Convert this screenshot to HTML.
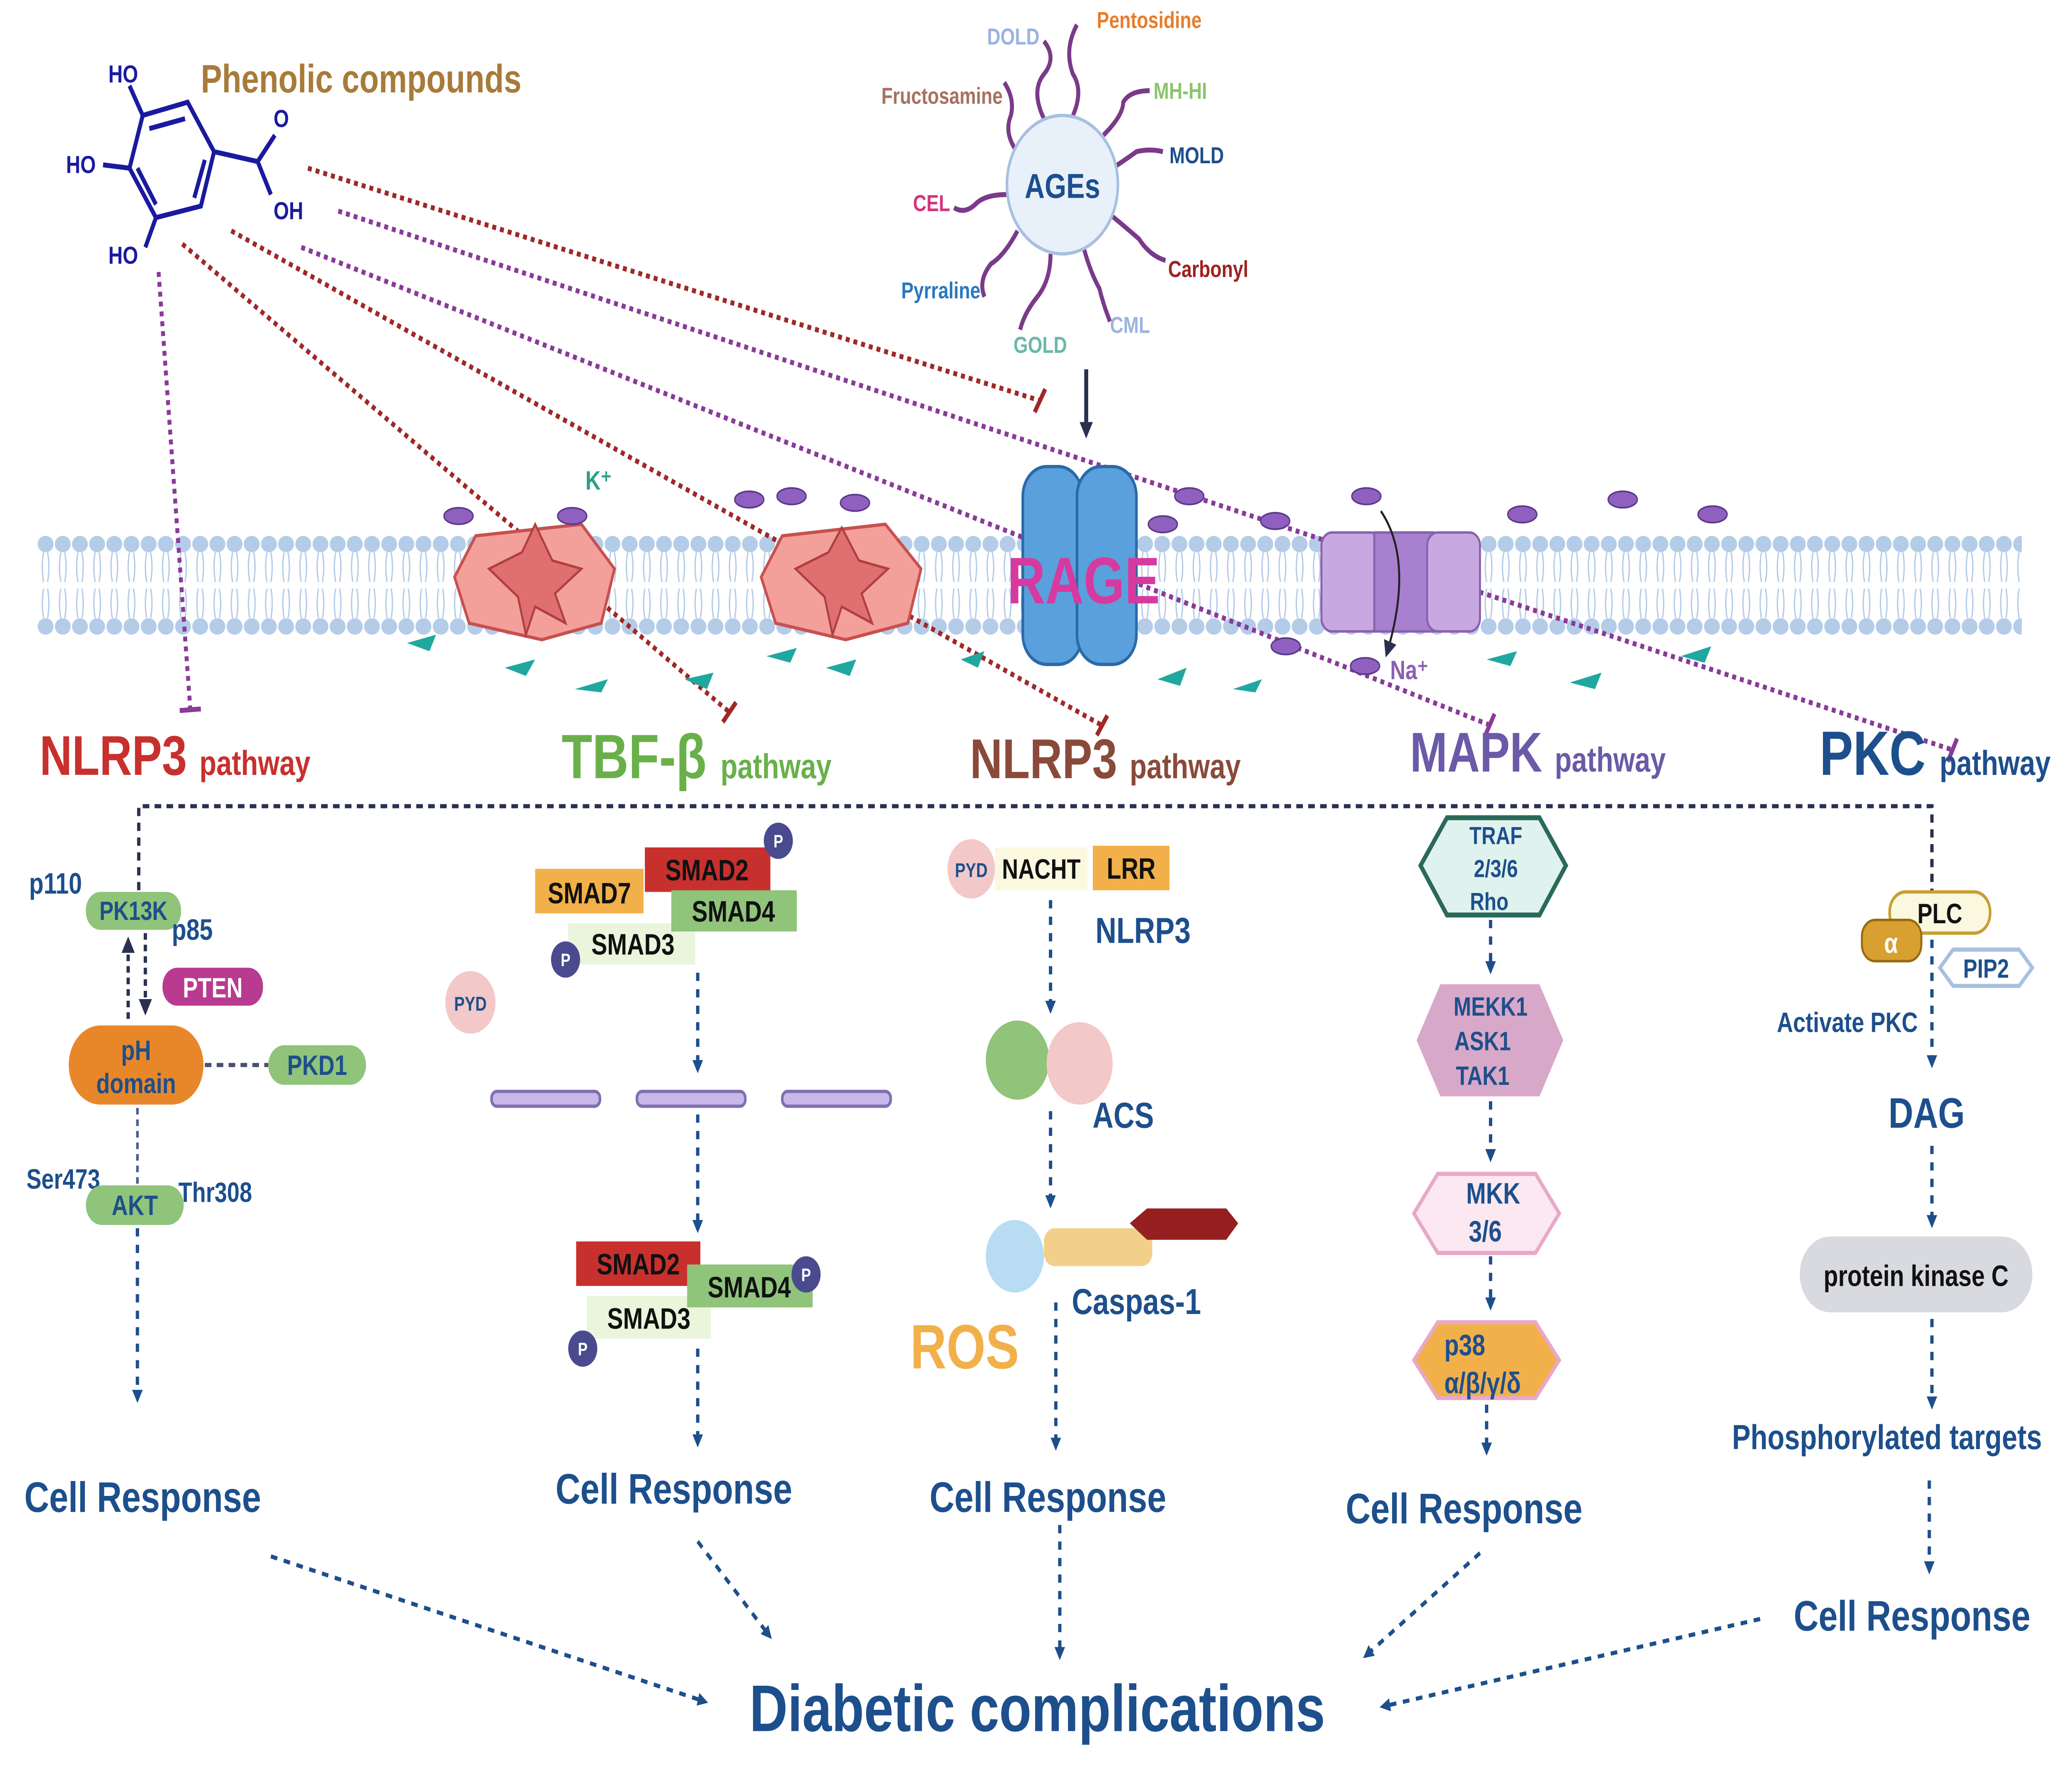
<!DOCTYPE html>
<html><head><meta charset="utf-8"><style>html,body{margin:0;padding:0;background:#fff;overflow:hidden;width:100%;height:100%}svg{display:block;position:absolute;left:0;top:0;width:100vw;height:100vh}text{font-family:"Liberation Sans",sans-serif;font-weight:bold}</style></head><body>
<svg viewBox="0 0 1568 1073" preserveAspectRatio="none" xmlns="http://www.w3.org/2000/svg">
<defs>
<pattern id="lip" x="28" y="322" width="13" height="66" patternUnits="userSpaceOnUse">
<ellipse cx="6.5" cy="8" rx="6" ry="5" fill="#b4cce8"/>
<ellipse cx="6.5" cy="58" rx="6" ry="5" fill="#b4cce8"/>
<path d="M5 13 Q3 22 5 31 M8 13 Q10 22 8 31 M5 35 Q3 44 5 53 M8 35 Q10 44 8 53" stroke="#b4cce8" stroke-width="1" fill="none"/>
</pattern>
<marker id="ah" markerWidth="8" markerHeight="8" refX="5" refY="4" orient="auto" markerUnits="userSpaceOnUse"><path d="M0 0 L8 4 L0 8 Z" fill="#1d4f8c"/></marker>
<marker id="ahk" markerWidth="10" markerHeight="10" refX="6" refY="5" orient="auto" markerUnits="userSpaceOnUse"><path d="M0 0 L10 5 L0 10 Z" fill="#2a3050"/></marker>
</defs>
<rect width="1568" height="1073" fill="#fff"/>
<rect x="28" y="322" width="1502" height="66" fill="url(#lip)"/>
<g stroke="#1a1aa0" stroke-width="3" fill="none">
<path d="M108 70 L142 62 L162 92 L152 125 L118 132 L98 102 Z"/>
<path d="M113 78 L140 72 M155 97 L147 120 M118 124 L104 102"/>
<path d="M162 92 L195 98 L208 82 M195 98 L205 118 M108 70 L98 52 M98 102 L78 100 M118 132 L110 150"/>
</g>
<g fill="#1a1aa0" font-size="15"><text x="82" y="50">HO</text><text x="50" y="105">HO</text><text x="82" y="160">HO</text><text x="207" y="77">O</text><text x="207" y="133">OH</text></g>
<text x="152" y="56" fill="#a87b3a" font-size="24">Phenolic compounds</text>
<g stroke="#7a3a8a" stroke-width="3" fill="none">
<path d="M790 72 Q780 55 790 45 Q800 35 790 25"/><path d="M812 70 Q820 55 812 45 Q805 30 815 15"/>
<path d="M835 82 Q850 70 850 62 Q855 55 870 55"/><path d="M842 102 Q855 95 860 92 Q870 90 880 92"/>
<path d="M840 130 Q855 140 862 145 Q870 155 882 158"/><path d="M820 150 Q825 165 832 175 Q835 185 840 195"/>
<path d="M795 154 Q795 170 785 180 Q775 190 772 200"/><path d="M770 140 Q760 155 750 160 Q740 170 745 180"/>
<path d="M762 118 Q745 118 738 124 Q730 130 722 126"/><path d="M768 90 Q760 80 765 70 Q768 60 760 50"/>
</g>
<circle cx="804" cy="112" r="42" fill="#e8f0fa" stroke="#a8c0e0" stroke-width="2"/>
<text x="804" y="120" text-anchor="middle" font-size="21" fill="#1d4f8c">AGEs</text>
<g font-size="14">
<text x="747" y="27" fill="#9bb4e0">DOLD</text><text x="830" y="17" fill="#e87d2a">Pentosidine</text>
<text x="667" y="63" fill="#a87060">Fructosamine</text><text x="873" y="60" fill="#8cc46a">MH-HI</text>
<text x="885" y="99" fill="#1d4f8c">MOLD</text><text x="691" y="128" fill="#d6337a">CEL</text>
<text x="884" y="168" fill="#a02020">Carbonyl</text><text x="682" y="181" fill="#2a78c0">Pyrraline</text>
<text x="840" y="202" fill="#9bb4e0">CML</text><text x="767" y="214" fill="#6ab8a8">GOLD</text>
</g>
<line x1="822" y1="224" x2="822" y2="262" stroke="#2a3050" stroke-width="3" marker-end="url(#ahk)"/>
<g stroke-width="3" stroke-dasharray="3 3" fill="none">
<line x1="233" y1="102" x2="787" y2="243" stroke="#a02828"/>
<line x1="256" y1="128" x2="1478" y2="455" stroke="#8a3a9a"/>
<line x1="228" y1="150" x2="1128" y2="440" stroke="#8a3a9a"/>
<line x1="175" y1="140" x2="834" y2="440" stroke="#a02828"/>
<line x1="138" y1="148" x2="552" y2="432" stroke="#a02828"/>
<line x1="120" y1="165" x2="144" y2="430" stroke="#8a3a9a"/>
</g>
<g stroke-width="3">
<line x1="783" y1="250" x2="791" y2="236" stroke="#a02828"/>
<line x1="1474" y1="462" x2="1481" y2="448" stroke="#8a3a9a"/>
<line x1="1124" y1="446" x2="1131" y2="433" stroke="#8a3a9a"/>
<line x1="830" y1="446" x2="838" y2="434" stroke="#a02828"/>
<line x1="547" y1="438" x2="557" y2="426" stroke="#a02828"/>
<line x1="136" y1="431" x2="152" y2="430" stroke="#8a3a9a"/>
</g>
<g fill="#f4a09a" stroke="#c85050" stroke-width="2">
<path d="M360 325 L440 318 L465 345 L455 378 L410 388 L355 378 L344 350 Z"/>
<path d="M592 325 L670 318 L697 345 L687 378 L640 388 L587 378 L576 350 Z"/>
</g>
<g fill="#e07070" stroke="#b04040" stroke-width="1.5">
<path d="M370 345 L395 335 L405 318 L418 340 L440 345 L420 360 L428 378 L405 368 L398 385 L392 362 Z"/>
<path d="M602 345 L627 335 L637 320 L650 340 L672 345 L652 360 L660 378 L637 368 L630 385 L624 362 Z"/>
</g>
<g fill="#5aa0dc" stroke="#2a6aa8" stroke-width="2">
<rect x="774" y="283" width="45" height="120" rx="18"/><rect x="815" y="283" width="45" height="120" rx="18"/>
</g>
<text x="820" y="366" text-anchor="middle" font-size="40" fill="#d63aa0">RAGE</text>
<g fill="#c8a8e0" stroke="#8a60b0" stroke-width="1.5">
<rect x="1000" y="323" width="45" height="60" rx="8"/><rect x="1040" y="323" width="45" height="60" fill="#a880d0"/><rect x="1080" y="323" width="40" height="60" rx="8"/>
</g>
<path d="M1045 310 Q1070 340 1050 395" stroke="#222" stroke-width="1.5" fill="none" marker-end="url(#ahk)"/>
<text x="443" y="297" font-size="16" fill="#2aa08a" font-weight="normal">K⁺</text>
<text x="1052" y="412" font-size="16" fill="#8a60b0" font-weight="normal">Na⁺</text>
<g fill="#9060c0" stroke="#5a3a8a" stroke-width="1">
<ellipse cx="347" cy="313" rx="11" ry="5"/><ellipse cx="433" cy="313" rx="11" ry="5"/><ellipse cx="567" cy="303" rx="11" ry="5"/>
<ellipse cx="599" cy="301" rx="11" ry="5"/><ellipse cx="647" cy="305" rx="11" ry="5"/><ellipse cx="880" cy="318" rx="11" ry="5"/>
<ellipse cx="900" cy="301" rx="11" ry="5"/><ellipse cx="965" cy="316" rx="11" ry="5"/><ellipse cx="1034" cy="301" rx="11" ry="5"/>
<ellipse cx="1152" cy="312" rx="11" ry="5"/><ellipse cx="1228" cy="303" rx="11" ry="5"/><ellipse cx="1296" cy="312" rx="11" ry="5"/>
<ellipse cx="973" cy="392" rx="11" ry="5"/><ellipse cx="1033" cy="404" rx="11" ry="5"/>
</g>
<g fill="#20a8a0">
<path d="M308 390 L330 385 L325 395 Z"/><path d="M382 405 L405 400 L398 410 Z"/><path d="M435 418 L460 412 L455 420 Z"/>
<path d="M518 412 L540 408 L535 418 Z"/><path d="M580 398 L603 393 L598 402 Z"/><path d="M625 405 L648 400 L643 410 Z"/>
<path d="M727 400 L745 395 L740 405 Z"/><path d="M876 412 L898 405 L893 416 Z"/><path d="M933 418 L955 412 L950 420 Z"/>
<path d="M1125 400 L1148 395 L1143 404 Z"/><path d="M1188 414 L1212 408 L1207 418 Z"/><path d="M1272 398 L1295 392 L1290 402 Z"/>
</g>
<text x="30" y="470" font-size="34" fill="#c8302e">NLRP3 <tspan font-size="21">pathway</tspan></text>
<text x="425" y="472" font-size="38" fill="#6ab04a">TBF-β <tspan font-size="21">pathway</tspan></text>
<text x="734" y="472" font-size="34" fill="#8a4a3a">NLRP3 <tspan font-size="21">pathway</tspan></text>
<text x="1067" y="468" font-size="34" fill="#6a5aa8">MAPK <tspan font-size="21">pathway</tspan></text>
<text x="1377" y="470" font-size="38" fill="#1d4f8c">PKC <tspan font-size="21">pathway</tspan></text>
<path d="M105 540 L105 489 L1462 489 L1462 540" stroke="#2a3050" stroke-width="2.5" stroke-dasharray="5 4" fill="none"/>
<text x="22" y="542" font-size="18" fill="#1d4f8c">p110</text>
<rect x="65" y="541" width="72" height="23" rx="11" fill="#8fc47a"/><text x="101" y="558" text-anchor="middle" font-size="16" fill="#1d4f8c">PK13K</text>
<text x="130" y="570" font-size="18" fill="#1d4f8c">p85</text>
<line x1="97" y1="618" x2="97" y2="572" stroke="#2a3050" stroke-width="2.5" stroke-dasharray="4 3" marker-end="url(#ahk)"/>
<line x1="110" y1="566" x2="110" y2="612" stroke="#2a3050" stroke-width="2.5" stroke-dasharray="4 3" marker-end="url(#ahk)"/>
<rect x="123" y="587" width="76" height="23" rx="11" fill="#b83b8f"/><text x="161" y="605" text-anchor="middle" font-size="17" fill="#fff">PTEN</text>
<rect x="52" y="622" width="102" height="48" rx="24" fill="#e8872a"/><text x="103" y="643" text-anchor="middle" font-size="17" fill="#1d4f8c">pH</text><text x="103" y="663" text-anchor="middle" font-size="17" fill="#1d4f8c">domain</text>
<line x1="155" y1="646" x2="203" y2="646" stroke="#4a5070" stroke-width="2.5" stroke-dasharray="5 4"/>
<rect x="203" y="634" width="74" height="24" rx="12" fill="#8fc47a"/><text x="240" y="652" text-anchor="middle" font-size="17" fill="#1d4f8c">PKD1</text>
<line x1="104" y1="672" x2="104" y2="718" stroke="#4a6090" stroke-width="2" stroke-dasharray="4 3"/>
<text x="20" y="721" font-size="17" fill="#1d4f8c">Ser473</text>
<rect x="65" y="719" width="74" height="24" rx="12" fill="#8fc47a"/><text x="102" y="737" text-anchor="middle" font-size="17" fill="#1d4f8c">AKT</text>
<text x="135" y="729" font-size="17" fill="#1d4f8c">Thr308</text>
<line x1="104" y1="745" x2="104" y2="848" stroke="#1d4f8c" stroke-width="2.5" stroke-dasharray="5 5" marker-end="url(#ah)"/>
<text x="108" y="917" text-anchor="middle" font-size="26" fill="#1d4f8c">Cell Response</text>
<rect x="405" y="527" width="82" height="27" fill="#f2b04a"/><text x="446" y="548" text-anchor="middle" font-size="18" fill="#111">SMAD7</text>
<rect x="488" y="514" width="95" height="27" fill="#c8302e"/><text x="535" y="534" text-anchor="middle" font-size="18" fill="#111">SMAD2</text>
<rect x="430" y="560" width="96" height="25" fill="#eaf5dc"/><text x="479" y="579" text-anchor="middle" font-size="18" fill="#111">SMAD3</text>
<rect x="508" y="540" width="95" height="25" fill="#8fc47a"/><text x="555" y="559" text-anchor="middle" font-size="18" fill="#111">SMAD4</text>
<g fill="#4a4a8f"><circle cx="589" cy="510" r="11"/><circle cx="428" cy="582" r="11"/></g>
<g fill="#fff" font-size="11" text-anchor="middle"><text x="589" y="514">P</text><text x="428" y="586">P</text></g>
<circle cx="356" cy="608" r="19" fill="#f2c8c8"/><text x="356" y="613" text-anchor="middle" font-size="12" fill="#1d4f8c">PYD</text>
<g fill="#c8b8e8" stroke="#8070b0" stroke-width="2"><rect x="372" y="662" width="82" height="9" rx="4"/><rect x="482" y="662" width="82" height="9" rx="4"/><rect x="592" y="662" width="82" height="9" rx="4"/></g>
<line x1="528" y1="590" x2="528" y2="648" stroke="#1d4f8c" stroke-width="2.5" stroke-dasharray="5 5" marker-end="url(#ah)"/>
<line x1="528" y1="676" x2="528" y2="745" stroke="#1d4f8c" stroke-width="2.5" stroke-dasharray="5 5" marker-end="url(#ah)"/>
<rect x="436" y="753" width="94" height="27" fill="#c8302e"/><text x="483" y="773" text-anchor="middle" font-size="18" fill="#111">SMAD2</text>
<rect x="444" y="786" width="94" height="26" fill="#eaf5dc"/><text x="491" y="806" text-anchor="middle" font-size="18" fill="#111">SMAD3</text>
<rect x="520" y="767" width="95" height="26" fill="#8fc47a"/><text x="567" y="787" text-anchor="middle" font-size="18" fill="#111">SMAD4</text>
<circle cx="610" cy="773" r="11" fill="#4a4a8f"/><text x="610" y="777" text-anchor="middle" font-size="11" fill="#fff">P</text>
<circle cx="441" cy="818" r="11" fill="#4a4a8f"/><text x="441" y="822" text-anchor="middle" font-size="11" fill="#fff">P</text>
<line x1="528" y1="818" x2="528" y2="875" stroke="#1d4f8c" stroke-width="2.5" stroke-dasharray="5 5" marker-end="url(#ah)"/>
<text x="510" y="912" text-anchor="middle" font-size="26" fill="#1d4f8c">Cell Response</text>
<circle cx="735" cy="527" r="18" fill="#f2c8c8"/><text x="735" y="532" text-anchor="middle" font-size="12" fill="#1d4f8c">PYD</text>
<rect x="753" y="514" width="70" height="26" fill="#fbf8e0"/><text x="788" y="533" text-anchor="middle" font-size="17" fill="#111">NACHT</text>
<rect x="827" y="513" width="58" height="27" fill="#f2b04a"/><text x="856" y="533" text-anchor="middle" font-size="18" fill="#111">LRR</text>
<text x="865" y="572" text-anchor="middle" font-size="22" fill="#1d4f8c">NLRP3</text>
<line x1="795" y1="546" x2="795" y2="612" stroke="#1d4f8c" stroke-width="2.5" stroke-dasharray="5 5" marker-end="url(#ah)"/>
<circle cx="770" cy="643" r="24" fill="#8fc47a"/><circle cx="817" cy="645" r="25" fill="#f2c8c8"/>
<text x="850" y="684" text-anchor="middle" font-size="22" fill="#1d4f8c">ACS</text>
<line x1="795" y1="674" x2="795" y2="730" stroke="#1d4f8c" stroke-width="2.5" stroke-dasharray="5 5" marker-end="url(#ah)"/>
<circle cx="768" cy="762" r="22" fill="#b8dcf2"/><rect x="790" y="745" width="82" height="23" rx="8" fill="#f2d08a"/>
<path d="M855 742 L868 733 L928 733 L937 742 L928 752 L868 752 Z" fill="#962020"/>
<text x="860" y="797" text-anchor="middle" font-size="22" fill="#1d4f8c">Caspas-1</text>
<text x="730" y="830" text-anchor="middle" font-size="38" fill="#f2b04a">ROS</text>
<line x1="799" y1="790" x2="799" y2="877" stroke="#1d4f8c" stroke-width="2.5" stroke-dasharray="5 5" marker-end="url(#ah)"/>
<text x="793" y="917" text-anchor="middle" font-size="26" fill="#1d4f8c">Cell Response</text>
<path d="M1075 525 L1095 496 L1165 496 L1185 525 L1165 555 L1095 555 Z" fill="#dff2ee" stroke="#2a6a5a" stroke-width="3"/>
<text x="1132" y="512" text-anchor="middle" font-size="15" fill="#1d4f8c">TRAF</text><text x="1132" y="532" text-anchor="middle" font-size="15" fill="#1d4f8c">2/3/6</text><text x="1127" y="552" text-anchor="middle" font-size="15" fill="#1d4f8c">Rho</text>
<line x1="1128" y1="558" x2="1128" y2="588" stroke="#1d4f8c" stroke-width="2.5" stroke-dasharray="5 5" marker-end="url(#ah)"/>
<path d="M1072 631 L1090 597 L1165 597 L1183 631 L1165 665 L1090 665 Z" fill="#d8a8c8"/>
<text x="1128" y="616" text-anchor="middle" font-size="16" fill="#1d4f8c">MEKK1</text><text x="1122" y="637" text-anchor="middle" font-size="16" fill="#1d4f8c">ASK1</text><text x="1122" y="658" text-anchor="middle" font-size="16" fill="#1d4f8c">TAK1</text>
<line x1="1128" y1="668" x2="1128" y2="702" stroke="#1d4f8c" stroke-width="2.5" stroke-dasharray="5 5" marker-end="url(#ah)"/>
<path d="M1070 736 L1088 712 L1162 712 L1180 736 L1162 760 L1088 760 Z" fill="#fbe8f0" stroke="#e8a8c8" stroke-width="2.5"/>
<text x="1130" y="730" text-anchor="middle" font-size="18" fill="#1d4f8c">MKK</text><text x="1124" y="753" text-anchor="middle" font-size="18" fill="#1d4f8c">3/6</text>
<line x1="1128" y1="762" x2="1128" y2="792" stroke="#1d4f8c" stroke-width="2.5" stroke-dasharray="5 5" marker-end="url(#ah)"/>
<path d="M1070 825 L1088 802 L1162 802 L1180 825 L1162 848 L1088 848 Z" fill="#f2b04a" stroke="#e8a8c8" stroke-width="2.5"/>
<text x="1093" y="822" font-size="18" fill="#1d4f8c">p38</text><text x="1122" y="845" text-anchor="middle" font-size="18" fill="#1d4f8c">α/β/γ/δ</text>
<line x1="1125" y1="852" x2="1125" y2="880" stroke="#1d4f8c" stroke-width="2.5" stroke-dasharray="5 5" marker-end="url(#ah)"/>
<text x="1108" y="924" text-anchor="middle" font-size="26" fill="#1d4f8c">Cell Response</text>
<rect x="1430" y="541" width="76" height="25" rx="12" fill="#fbf8e0" stroke="#c8a030" stroke-width="2"/><text x="1468" y="560" text-anchor="middle" font-size="17" fill="#111">PLC</text>
<rect x="1409" y="558" width="45" height="25" rx="10" fill="#d8a030" stroke="#9a6a10" stroke-width="1.5"/><text x="1431" y="578" text-anchor="middle" font-size="17" fill="#fff">α</text>
<path d="M1468 587 L1478 576 L1528 576 L1538 587 L1528 598 L1478 598 Z" fill="#fff" stroke="#a8c0e0" stroke-width="2.5"/><text x="1503" y="593" text-anchor="middle" font-size="16" fill="#1d4f8c">PIP2</text>
<text x="1398" y="626" text-anchor="middle" font-size="17" fill="#1d4f8c">Activate PKC</text>
<line x1="1462" y1="570" x2="1462" y2="645" stroke="#1d4f8c" stroke-width="2.5" stroke-dasharray="5 5" marker-end="url(#ah)"/>
<text x="1458" y="684" text-anchor="middle" font-size="26" fill="#1d4f8c">DAG</text>
<line x1="1462" y1="695" x2="1462" y2="742" stroke="#1d4f8c" stroke-width="2.5" stroke-dasharray="5 5" marker-end="url(#ah)"/>
<rect x="1362" y="750" width="176" height="46" rx="23" fill="#d8dae0"/><text x="1450" y="780" text-anchor="middle" font-size="18" fill="#111">protein kinase C</text>
<line x1="1462" y1="800" x2="1462" y2="852" stroke="#1d4f8c" stroke-width="2.5" stroke-dasharray="5 5" marker-end="url(#ah)"/>
<text x="1428" y="879" text-anchor="middle" font-size="21" fill="#1d4f8c">Phosphorylated targets</text>
<line x1="1460" y1="898" x2="1460" y2="952" stroke="#1d4f8c" stroke-width="2.5" stroke-dasharray="5 5" marker-end="url(#ah)"/>
<text x="1447" y="989" text-anchor="middle" font-size="26" fill="#1d4f8c">Cell Response</text>
<g stroke="#1d4f8c" stroke-width="2.5" stroke-dasharray="5 5" fill="none" marker-end="url(#ah)">
<line x1="205" y1="944" x2="533" y2="1032"/><line x1="528" y1="935" x2="582" y2="992"/>
<line x1="802" y1="925" x2="802" y2="1004"/><line x1="1120" y1="942" x2="1034" y2="1004"/>
<line x1="1332" y1="982" x2="1047" y2="1035"/>
</g>
<text x="785" y="1050" text-anchor="middle" font-size="40" fill="#1d4f8c">Diabetic complications</text>
</svg>
</body></html>
